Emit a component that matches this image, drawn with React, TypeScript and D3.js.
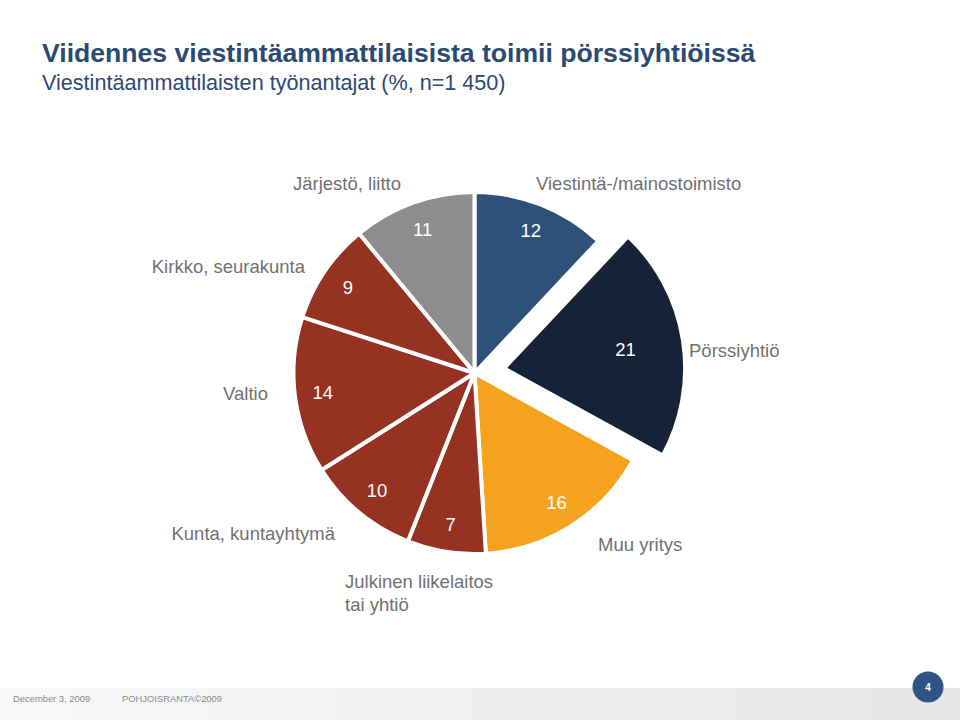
import React from "react";
import * as d3 from "d3";

const categories = [
  "Viestintä-/mainostoimisto",
  "Pörssiyhtiö",
  "Muu yritys",
  "Julkinen liikelaitos tai yhtiö",
  "Kunta, kuntayhtymä",
  "Valtio",
  "Kirkko, seurakunta",
  "Järjestö, liitto",
];
const values = [12, 21, 16, 7, 10, 14, 9, 11];
const exploded = ["Pörssiyhtiö"];

const colors = ["#2E5079", "#142337", "#F5A31E", "#963222", "#963222", "#963222", "#963222", "#8E8E8E"];

// Outside label layout (annotation placement, not data)
const labelLayout: Record<string, { x: number; y: number; anchor: string; lines: string[] }> = {
  "Viestintä-/mainostoimisto": { x: 536, y: 190, anchor: "start", lines: ["Viestintä-/mainostoimisto"] },
  "Pörssiyhtiö": { x: 689, y: 357, anchor: "start", lines: ["Pörssiyhtiö"] },
  "Muu yritys": { x: 598, y: 551, anchor: "start", lines: ["Muu yritys"] },
  "Julkinen liikelaitos tai yhtiö": { x: 345, y: 588, anchor: "start", lines: ["Julkinen liikelaitos", "tai yhtiö"] },
  "Kunta, kuntayhtymä": { x: 335, y: 540, anchor: "end", lines: ["Kunta, kuntayhtymä"] },
  "Valtio": { x: 268, y: 400, anchor: "end", lines: ["Valtio"] },
  "Kirkko, seurakunta": { x: 305, y: 273, anchor: "end", lines: ["Kirkko, seurakunta"] },
  "Järjestö, liitto": { x: 293, y: 190, anchor: "start", lines: ["Järjestö, liitto"] },
};

export default function App() {
  const W = 960, H = 720;
  const cx = 474.5, cy = 373;
  const r = 181;
  const explodeDist = 30;
  const labelR = 153;
  const font = "'Liberation Sans', Arial, sans-serif";

  const data = categories.map((c, i) => ({ cat: c, value: values[i], color: colors[i] }));
  const pie = d3.pie<any>().value((d) => d.value).sort(null);
  const arcs = pie(data);
  const arcGen = d3.arc<any>().innerRadius(0).outerRadius(r);

  return (
    <svg width={W} height={H} style={{ position: "absolute", left: 0, top: 0, background: "#fff" }}>
      <defs>
        <linearGradient id="footerGrad" x1="0" x2="1" y1="0" y2="0">
          <stop offset="0" stopColor="#f8f8f8" />
          <stop offset="1" stopColor="#e4e6e8" />
        </linearGradient>
      </defs>
      <rect x={0} y={0} width={W} height={H} fill="#fff" />
      <text x={42} y={62} fontFamily={font} fontSize={26.6} fontWeight="bold" fill="#2B4A72">
        Viidennes viestintäammattilaisista toimii pörssiyhtiöissä
      </text>
      <text x={42} y={90} fontFamily={font} fontSize={21.6} fill="#2B4A72">
        Viestintäammattilaisten työnantajat (%, n=1 450)
      </text>

      <g transform={`translate(${cx},${cy})`}>
        {arcs.map((a, i) => {
          const mid = (a.startAngle + a.endAngle) / 2;
          const off = exploded.includes(a.data.cat) ? explodeDist : 0;
          const dx = Math.sin(mid) * off;
          const dy = -Math.cos(mid) * off;
          return (
            <path
              key={i}
              d={arcGen(a) as string}
              transform={`translate(${dx},${dy})`}
              fill={a.data.color}
              stroke="#fff"
              strokeWidth={4}
              strokeLinejoin="miter"
            />
          );
        })}
        {arcs.map((a, i) => {
          const mid = (a.startAngle + a.endAngle) / 2;
          return (
            <text
              key={"v" + i}
              x={Math.sin(mid) * labelR}
              y={-Math.cos(mid) * labelR}
              textAnchor="middle"
              dominantBaseline="central"
              fontFamily={font}
              fontSize={18.5}
              fill="#fff"
            >
              {a.data.value}
            </text>
          );
        })}
      </g>

      {categories.map((c) => {
        const l = labelLayout[c];
        return (
          <text key={c} x={l.x} y={l.y} textAnchor={l.anchor as any} fontFamily={font} fontSize={18.5} fill="#717171">
            {l.lines.map((ln, j) => (
              <tspan key={j} x={l.x} dy={j === 0 ? 0 : 23}>
                {ln}
              </tspan>
            ))}
          </text>
        );
      })}

      <rect x={0} y={688} width={W} height={32} fill="url(#footerGrad)" />
      <text x={13} y={702} fontFamily={font} fontSize={9.4} fill="#8a8a8a">December 3, 2009</text>
      <text x={122} y={702} fontFamily={font} fontSize={9.4} fill="#8a8a8a">POHJOISRANTA©2009</text>
      <circle cx={928} cy={687} r={15.5} fill="#2E5384" />
      <text x={928} y={687} textAnchor="middle" dominantBaseline="central" fontFamily={font} fontSize={10} fontWeight="bold" fill="#fff">4</text>
    </svg>
  );
}
